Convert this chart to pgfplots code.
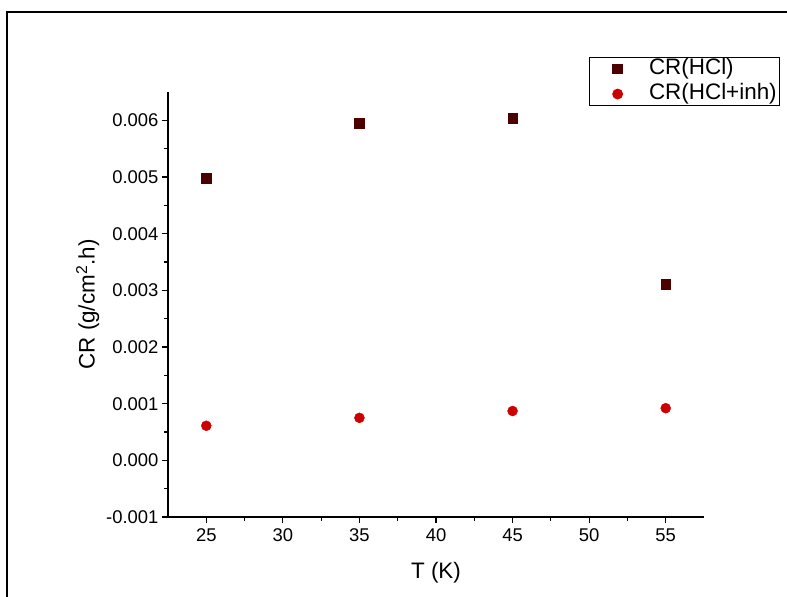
\documentclass[border=0pt]{standalone}
\usepackage{fontspec}
\setmainfont{Liberation Sans}
\usepackage{pgfplots}
\pgfplotsset{compat=1.18}
\definecolor{cAcid}{HTML}{4D0000}
\definecolor{cInh}{HTML}{CC0000}
\begin{document}
\begin{tikzpicture}
\useasboundingbox (0,0) rectangle (787bp,597bp);
\draw[line width=1.3bp] (7bp,-10bp) -- (7bp,585bp) -- (800bp,585bp);
\begin{axis}[
    at={(168bp,80bp)}, anchor=south west,
    scale only axis, width=536bp, height=425bp,
    axis lines*=left,
    axis line style={line width=1.1bp},
    every tick/.style={line width=1.1bp, black},
    tick align=outside,
    major tick length=6bp, minor tick length=4bp,
    xmin=22.5, xmax=57.5, ymin=-0.001, ymax=0.0065,
    xtick={25,30,...,55}, minor x tick num=1,
    ytick={-0.001,0,0.001,0.002,0.003,0.004,0.005,0.006}, minor y tick num=1,
    scaled y ticks=false,
    yticklabel style={/pgf/number format/.cd, fixed, fixed zerofill, precision=3},
    xticklabel style={yshift=-2bp},
    /pgf/number format/assume math mode=true,
    tick label style={font=\fontsize{18.5}{22}\selectfont},
    label style={font=\fontsize{22.5}{26}\selectfont},
    xlabel={T (K)},
    xlabel style={yshift=-14bp},
    ylabel={CR (g/cm\textsuperscript{2}.h)},
    legend style={at={(axis description cs:1.142,1.082)}, anchor=north east,
        draw=black, line width=0.8bp, font=\fontsize{22.5}{25}\selectfont,
        inner xsep=3bp, inner ysep=1bp, row sep=4bp, column sep=0bp,
        nodes={inner xsep=0bp, inner ysep=0bp, text height=16bp, text depth=5bp}},
    legend cell align=left,
    legend image code/.code={
        \draw[#1] plot coordinates {(0bp,0bp)};
        \path (-25bp,0bp) (31bp,0bp);},
]
\addplot[only marks, mark=square*, mark size=4.8bp, color=cAcid] coordinates {
  (25,0.00498) (35,0.00595) (45,0.00604) (55,0.00311)};
\addlegendentry{CR(HCl)}
\addplot[only marks, mark=*, mark size=5bp, color=cInh] coordinates {
  (25,0.00061) (35,0.00075) (45,0.00087) (55,0.00092)};
\addlegendentry{CR(HCl+inh)}
\end{axis}
\end{tikzpicture}
\end{document}
